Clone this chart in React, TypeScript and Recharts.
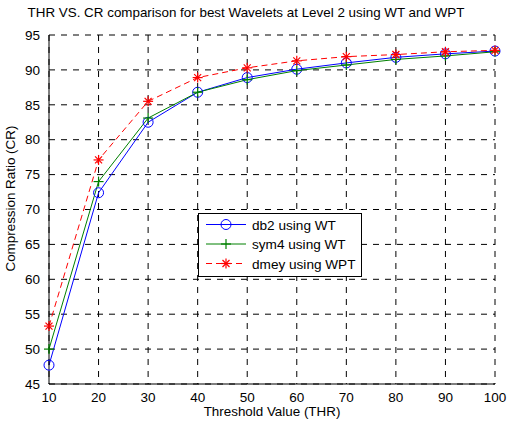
import { LineChart, Line, XAxis, YAxis, CartesianGrid } from "recharts"

const thresholds = [10, 20, 30, 40, 50, 60, 70, 80, 90, 100]
const db2WT = [47.7, 72.4, 82.5, 86.8, 88.9, 90.1, 91.0, 91.8, 92.3, 92.7]
const sym4WT = [50.0, 74.0, 83.1, 86.8, 88.6, 89.9, 90.7, 91.5, 92.0, 92.6]
const dmeyWPT = [53.3, 77.1, 85.5, 88.9, 90.3, 91.3, 91.9, 92.2, 92.6, 92.8]
const xTicks = [10, 20, 30, 40, 50, 60, 70, 80, 90, 100]
const yTicks = [45, 50, 55, 60, 65, 70, 75, 80, 85, 90, 95]

const chartData = thresholds.map((t, i) => ({
  thr: t,
  db2: db2WT[i],
  sym4: sym4WT[i],
  dmey: dmeyWPT[i],
}))

const FONT = "'Liberation Sans', Arial, sans-serif"

// marker shapes like matlab's 'o', '+' and '*'
const CircleDot = (props: any) => {
  const { cx, cy } = props
  if (cx == null || cy == null) return null
  return <circle cx={cx} cy={cy} r={5} fill="none" stroke="#0000FF" strokeWidth={1} />
}

const PlusDot = (props: any) => {
  const { cx, cy } = props
  if (cx == null || cy == null) return null
  return (
    <g stroke="#008000" strokeWidth={1.2}>
      <line x1={cx - 5} y1={cy} x2={cx + 5} y2={cy} />
      <line x1={cx} y1={cy - 5} x2={cx} y2={cy + 5} />
    </g>
  )
}

const StarDot = (props: any) => {
  const { cx, cy } = props
  if (cx == null || cy == null) return null
  return (
    <g stroke="#FF0000" strokeWidth={1.2}>
      <line x1={cx - 5} y1={cy} x2={cx + 5} y2={cy} />
      <line x1={cx} y1={cy - 5} x2={cx} y2={cy + 5} />
      <line x1={cx - 3.5} y1={cy - 3.5} x2={cx + 3.5} y2={cy + 3.5} />
      <line x1={cx - 3.5} y1={cy + 3.5} x2={cx + 3.5} y2={cy - 3.5} />
    </g>
  )
}

const legendItems = [
  { label: "db2 using WT", color: "#0000FF", dash: undefined, Marker: CircleDot },
  { label: "sym4 using WT", color: "#008000", dash: undefined, Marker: PlusDot },
  { label: "dmey using WPT", color: "#FF0000", dash: "6 4", Marker: StarDot },
]

const LegendBox = () => (
  <svg width={164} height={64} style={{ display: "block" }}>
    <rect x={0.5} y={0.5} width={163} height={63} fill="#fff" stroke="#000" strokeWidth={1} />
    {legendItems.map((it, i) => {
      const y = 11.5 + i * 19.5
      return (
        <g key={it.label}>
          <line x1={8} y1={y} x2={48} y2={y} stroke={it.color} strokeWidth={1} strokeDasharray={it.dash} />
          <it.Marker cx={28} cy={y} />
          <text x={54} y={y + 5} fontSize={13.6} fontFamily={FONT} fill="#000">
            {it.label}
          </text>
        </g>
      )
    })}
  </svg>
)

const App = () => {
  return (
    <div style={{ position: "absolute", left: 0, top: 0, width: 507, height: 421, background: "#fff", fontFamily: FONT }}>
      <svg width={507} height={30} style={{ position: "absolute", left: 0, top: 0 }}>
        <text x={246} y={17} textAnchor="middle" fontSize={13.4} fontFamily={FONT} fill="#000">
          THR VS. CR comparison for best Wavelets at Level 2 using WT and WPT
        </text>
      </svg>
      <LineChart
        width={507}
        height={421}
        data={chartData}
        margin={{ top: 35, right: 12, left: 0, bottom: 0 }}
      >
        <CartesianGrid stroke="#000" strokeDasharray="6 6" strokeWidth={1} />
        <XAxis
          dataKey="thr"
          type="number"
          domain={[10, 100]}
          ticks={xTicks}
          height={37}
          stroke="#000"
          tickLine={false}
          tick={{ fill: "#000", fontSize: 13.5, fontFamily: FONT }}
          tickMargin={2}
          label={{ value: "Threshold Value (THR)", position: "insideBottom", offset: 5, fill: "#000", fontSize: 13.4, fontFamily: FONT }}
        />
        <XAxis xAxisId="top" orientation="top" dataKey="thr" type="number" domain={[10, 100]} ticks={xTicks} height={0} stroke="#000" tick={false} tickLine={false} />
        <YAxis
          type="number"
          domain={[45, 95]}
          ticks={yTicks}
          width={49}
          stroke="#000"
          tickLine={false}
          tick={{ fill: "#000", fontSize: 13.5, fontFamily: FONT }}
          tickMargin={3}
          label={{ value: "Compression Ratio (CR)", angle: -90, position: "insideLeft", offset: 10, dy: 62, fill: "#000", fontSize: 13.4, fontFamily: FONT }}
        />
        <YAxis yAxisId="right" orientation="right" type="number" domain={[45, 95]} ticks={yTicks} width={0} stroke="#000" tick={false} tickLine={false} />
        <Line type="linear" dataKey="db2" stroke="#0000FF" strokeWidth={1} dot={<CircleDot />} activeDot={false} isAnimationActive={false} />
        <Line type="linear" dataKey="sym4" stroke="#008000" strokeWidth={1} dot={<PlusDot />} activeDot={false} isAnimationActive={false} />
        <Line type="linear" dataKey="dmey" stroke="#FF0000" strokeWidth={1} strokeDasharray="6 4" dot={<StarDot />} activeDot={false} isAnimationActive={false} />
      </LineChart>
      <div style={{ position: "absolute", left: 198, top: 213 }}>
        <LegendBox />
      </div>
    </div>
  )
}

export default App
